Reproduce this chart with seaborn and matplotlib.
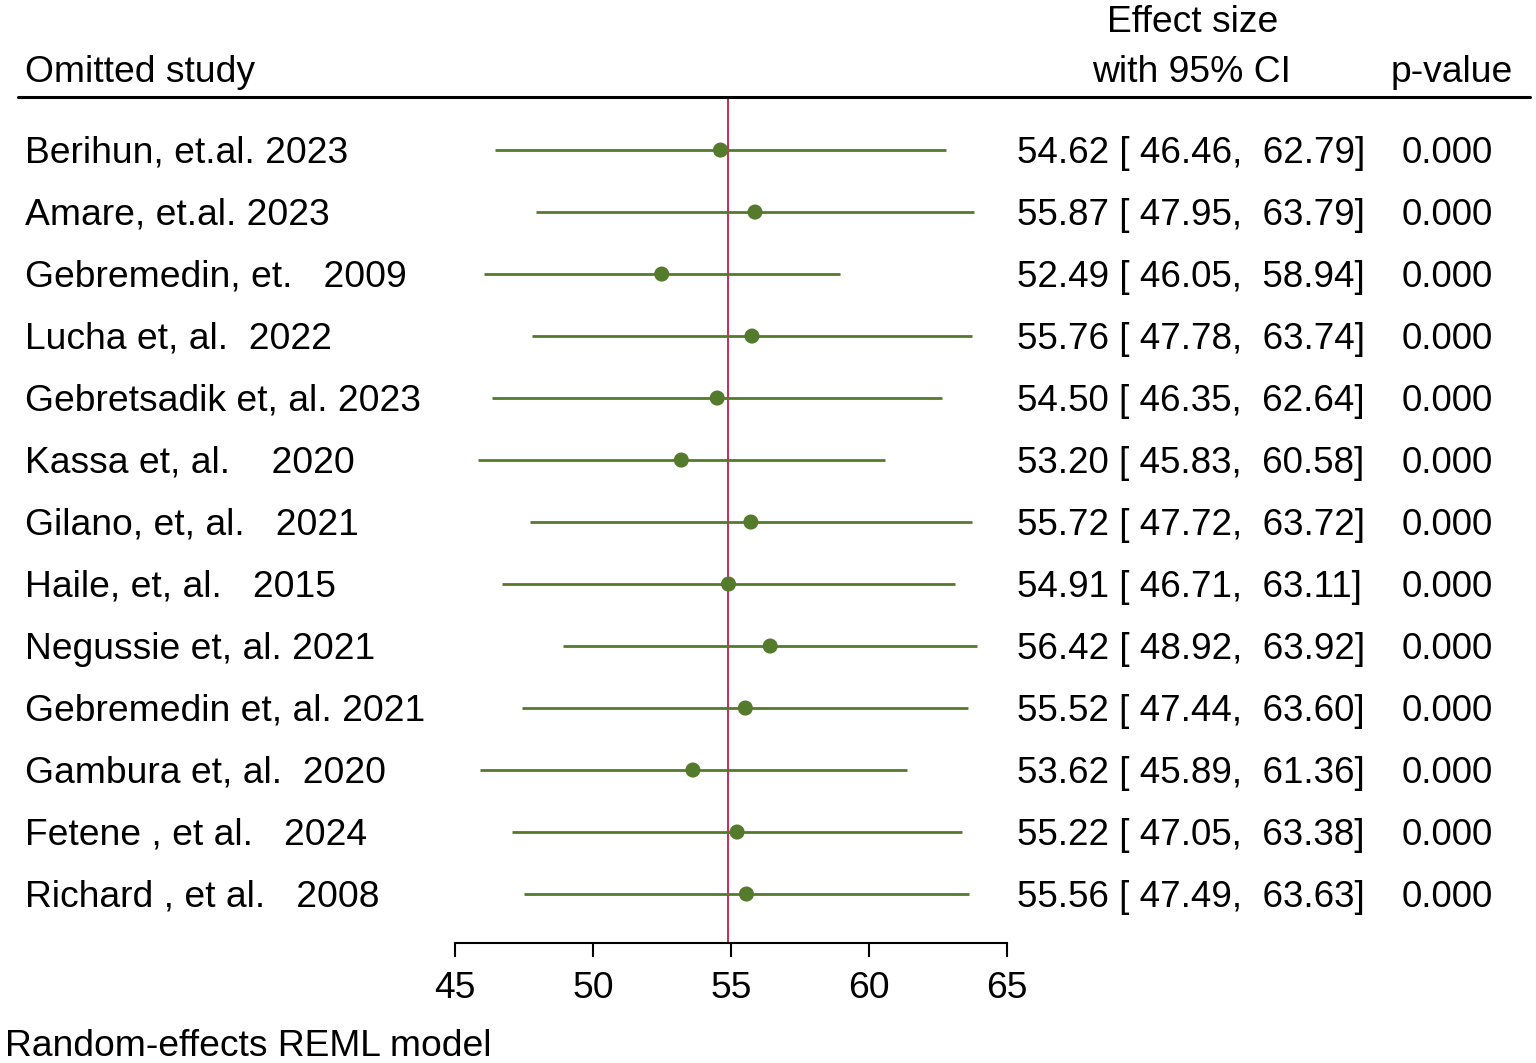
import numpy as np
import pandas as pd
import seaborn as sns
import matplotlib.pyplot as plt
from matplotlib.transforms import blended_transform_factory
from matplotlib.lines import Line2D

# leave-one-out sensitivity analysis (forest plot)
studies = ["Berihun, et.al. 2023", "Amare, et.al. 2023", "Gebremedin, et.   2009",
           "Lucha et, al.  2022", "Gebretsadik et, al. 2023", "Kassa et, al.    2020",
           "Gilano, et, al.   2021", "Haile, et, al.   2015", "Negussie et, al. 2021",
           "Gebremedin et, al. 2021", "Gambura et, al.  2020", "Fetene , et al.   2024",
           "Richard , et al.   2008"]
est = [54.62, 55.87, 52.49, 55.76, 54.50, 53.20, 55.72, 54.91, 56.42, 55.52, 53.62, 55.22, 55.56]
lo = [46.46, 47.95, 46.05, 47.78, 46.35, 45.83, 47.72, 46.71, 48.92, 47.44, 45.89, 47.05, 47.49]
hi = [62.79, 63.79, 58.94, 63.74, 62.64, 60.58, 63.72, 63.11, 63.92, 63.60, 61.36, 63.38, 63.63]
pvals = [0.000] * 13
pooled = 54.88
xticks = [45, 50, 55, 60, 65]

df = pd.DataFrame({"study": studies, "est": est, "lo": lo, "hi": hi, "p": pvals})
df["row"] = np.arange(len(df))

sns.set_style("white")
plt.rcParams["font.family"] = ["Liberation Sans", "DejaVu Sans"]
plt.rcParams["text.color"] = "black"
plt.rcParams["xtick.color"] = "black"

W, H = 1536, 1063
fs = 26.8
fs_num = 26.5
green = "#547a2c"
dy = 0.05  # small downward nudge for text (rows)

fig = plt.figure(figsize=(W / 100, H / 100), dpi=100)
ax = fig.add_axes([455 / W, 1 - 943 / H, (1007 - 455) / W, (943 - 98) / H])

ax.hlines(df["row"], df["lo"], df["hi"], color=green, lw=2.0, zorder=2)
sns.scatterplot(data=df, x="est", y="row", ax=ax, color=green, s=118,
                edgecolor="none", zorder=3, legend=False)
ax.axvline(pooled, color="#c8184a", lw=1.3, zorder=1)

ax.set_xlim(45, 65)
ax.set_ylim(12.79, -0.84)
ax.set_xticks(xticks)
ax.set_yticks([])
ax.set_xlabel("")
ax.set_ylabel("")
for s in ["top", "left", "right"]:
    ax.spines[s].set_visible(False)
ax.spines["bottom"].set_color("black")
ax.spines["bottom"].set_linewidth(1.5)
ax.tick_params(axis="x", direction="out", length=10, width=1.5, colors="black",
               labelsize=fs, pad=10, bottom=True)

# text columns
tr = blended_transform_factory(fig.transFigure, ax.transData)
for r in df.itertuples():
    y = r.row + dy
    fig.text(25 / W, y, r.study, transform=tr, ha="left", va="center", fontsize=fs)
    fig.text(1017 / W, y, f"{r.est:5.2f} [{r.lo:6.2f},  {r.hi:5.2f}]",
             transform=tr, ha="left", va="center", fontsize=fs_num)
    fig.text(1402 / W, y, f"{r.p:.3f}", transform=tr, ha="left", va="center", fontsize=fs_num)

# header
fig.text(25 / W, 1 - 73 / H, "Omitted study", ha="left", va="center", fontsize=fs)
fig.text(1193 / W, 1 - 22 / H, "Effect size", ha="center", va="center", fontsize=fs)
fig.text(1192 / W, 1 - 73 / H, "with 95% CI", ha="center", va="center", fontsize=fs)
fig.text(1513 / W, 1 - 73 / H, "p-value", ha="right", va="center", fontsize=fs)
fig.add_artist(Line2D([18 / W, 1530 / W], [1 - 97 / H, 1 - 97 / H],
                      transform=fig.transFigure, color="black", lw=2.2))

fig.text(5 / W, 1 - 1046 / H, "Random-effects REML model", ha="left", va="center", fontsize=fs)

fig.savefig("out.png", dpi=100)
